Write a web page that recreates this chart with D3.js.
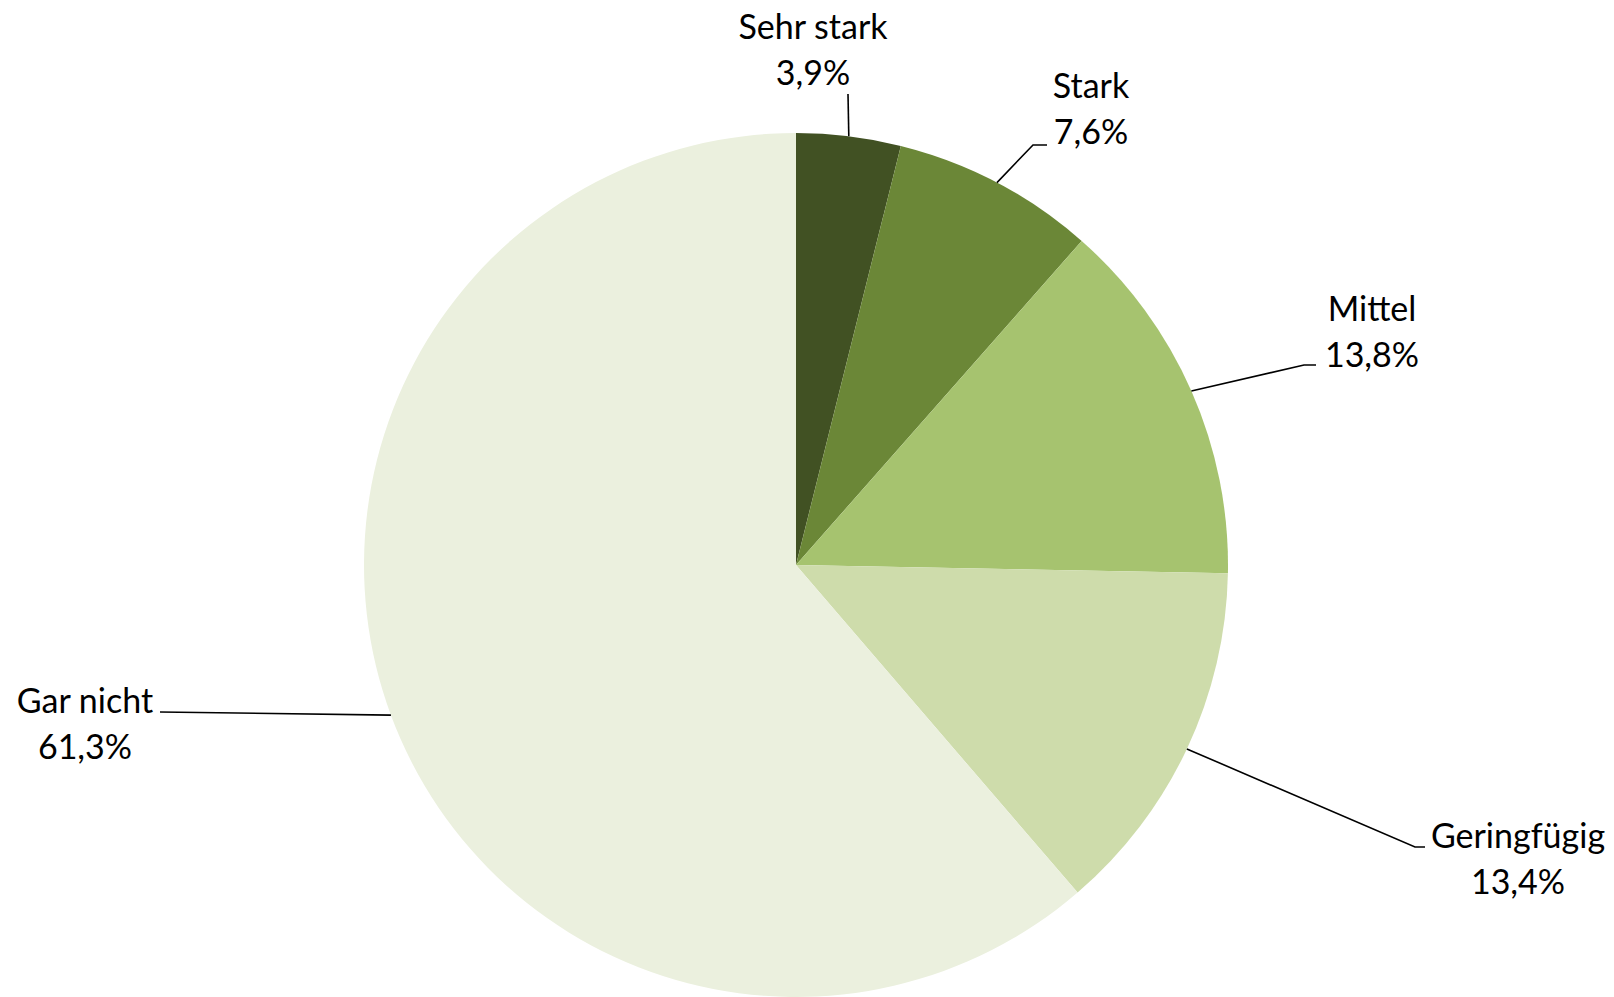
<!DOCTYPE html>
<html lang="de">
<head>
<meta charset="utf-8">
<script src="https://cdn.jsdelivr.net/npm/d3@7"></script>
<style>
  html, body { margin: 0; padding: 0; background: #ffffff; }
  svg { display: block; }
  text { font-family: Lato, "Open Sans", sans-serif; fill: #000; }
</style>
</head>
<body>
<svg id="chart" width="1614" height="997"></svg>
<script>
// Anteile je Kategorie (in %)
const categories = ["Sehr stark", "Stark", "Mittel", "Geringfügig", "Gar nicht"];
const values = [3.9, 7.6, 13.8, 13.4, 61.3];
const colors = ["#415123", "#6b8737", "#a6c36f", "#cedcab", "#ebf0de"];

// Lage der Beschriftungen: Textmitte, erste Grundlinie, Knick der Führungslinie
const labelLayout = [
  { x: 813,  y: 39,  line: [[848, 94]] },
  { x: 1091, y: 98,  line: [[1033, 145], [1047, 145]] },
  { x: 1372, y: 321, line: [[1304, 365], [1316, 365]] },
  { x: 1518, y: 848, line: [[1415, 847], [1425, 847]] },
  { x: 85,   y: 713, line: [[160, 712]] }
];

const width = 1614, height = 997;
const cx = 796, cy = 565, radius = 432;
const lineGap = 46;

const de = d3.formatLocale({ decimal: ",", thousands: ".", grouping: [3], currency: ["", " €"] });
const fmt = de.format(".1f");

const svg = d3.select("#chart");
const g = svg.append("g").attr("transform", `translate(${cx},${cy})`);

const pie = d3.pie().sort(null).value(d => d.value);
const arcs = pie(categories.map((c, i) => ({ name: c, value: values[i], color: colors[i] })));

const arc = d3.arc().innerRadius(0).outerRadius(radius);

g.selectAll("path.slice")
  .data(arcs)
  .join("path")
  .attr("class", "slice")
  .attr("d", arc)
  .attr("fill", d => d.data.color);

// Führungslinien vom Rand des Segments zur Beschriftung
const edgePoint = d => {
  const a = (d.startAngle + d.endAngle) / 2;
  return [cx + radius * Math.sin(a), cy - radius * Math.cos(a)];
};

svg.append("g")
  .selectAll("path.leader")
  .data(arcs)
  .join("path")
  .attr("class", "leader")
  .attr("fill", "none")
  .attr("stroke", "#000")
  .attr("stroke-width", 1.6)
  .attr("d", (d, i) => d3.line()([edgePoint(d), ...labelLayout[i].line]));

const labels = svg.append("g")
  .selectAll("text")
  .data(arcs)
  .join("text")
  .attr("text-anchor", "middle")
  .attr("font-size", 34)
  .attr("x", (d, i) => labelLayout[i].x)
  .attr("y", (d, i) => labelLayout[i].y);

labels.append("tspan")
  .attr("x", (d, i) => labelLayout[i].x)
  .text(d => d.data.name);

labels.append("tspan")
  .attr("x", (d, i) => labelLayout[i].x)
  .attr("dy", lineGap)
  .text(d => fmt(d.data.value) + "%");
</script>
</body>
</html>
